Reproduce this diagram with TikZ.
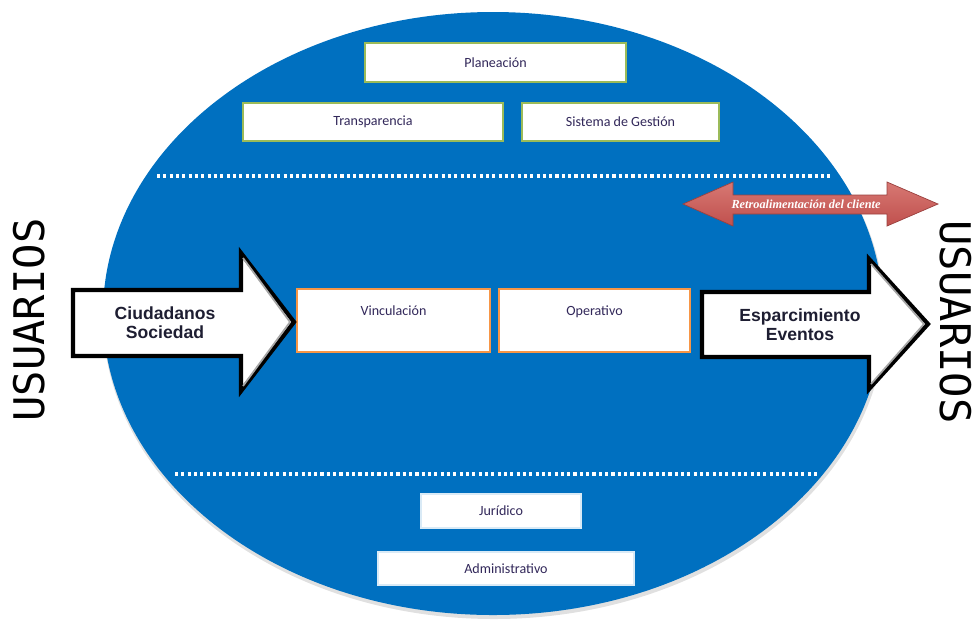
\documentclass[tikz,border=0pt]{standalone}
\usepackage{fontspec}
\setmainfont{Carlito}
\newfontfamily\arrowfont{Liberation Sans}
\newfontfamily\serifit{Liberation Serif}
\newfontfamily\monofont{DejaVu Sans Mono}
\definecolor{ellblue}{RGB}{0,112,192}
\definecolor{boxgreen}{RGB}{155,187,89}
\definecolor{boxorange}{RGB}{247,150,70}
\definecolor{fbred}{RGB}{192,80,77}
\definecolor{fbredlight}{RGB}{215,120,115}
\definecolor{txtdark}{RGB}{50,40,90}
\definecolor{arrtxt}{RGB}{30,30,50}
\begin{document}
\begin{tikzpicture}[x=0.02cm,y=-0.02cm,
  boxbase/.style={rectangle, fill=white, inner sep=0pt, font=\fontsize{8}{9}\selectfont, text=txtdark},
  gbox/.style={boxbase, draw=boxgreen, line width=1.6pt},
  obox/.style={boxbase, draw=boxorange, line width=1.6pt},
  wbox/.style={boxbase, draw=white!85!ellblue, line width=1.2pt},
  divider/.style={white, line width=1.8pt, dash pattern=on 1.8pt off 1.8pt},
  bigarrow/.style={fill=white, draw=black, line width=2.4pt, line join=miter},
  arrowtext/.style={font=\arrowfont\bfseries\fontsize{10}{11}\selectfont, align=center, text=arrtxt},
  usuarios/.style={font=\monofont\fontsize{24}{24}\selectfont, text=black}
]
\useasboundingbox (0,0) rectangle (973,627);
% shadow and main ellipse
\fill[black!12] (494,317) ellipse [x radius=391, y radius=302];
\fill[ellblue] (493,313.5) ellipse [x radius=390, y radius=301.5];
\coordinate (ell) at (493,313.5);

% dividers
\coordinate (d1a) at (157,176);
\coordinate (d1b) at (830,176);
\coordinate (d2a) at (175,474);
\coordinate (d2b) at (820,474);
\draw[divider] (d1a) -- (d1b);
\draw[divider] (d2a) -- (d2b);

% top boxes
\node[gbox, minimum width=5.22cm, minimum height=0.78cm] (plan) at (495.5,62.5) {Planeación};
\node[gbox, minimum width=5.2cm, minimum height=0.76cm] (trans) at (373,122) {Transparencia};
\node[gbox, minimum width=3.94cm, minimum height=0.76cm] (sist) at (620.5,122) {Sistema de Gestión};

% middle boxes
\node[obox, minimum width=3.86cm, text height=0.53cm, text depth=0.73cm, align=center] (vinc) at (393.5,320.5) {Vinculación};
\node[obox, minimum width=3.82cm, text height=0.53cm, text depth=0.73cm, align=center] (oper) at (594.5,320.5) {Operativo};

% bottom boxes
\node[wbox, minimum width=3.2cm, minimum height=0.68cm] (jur) at (501,511) {Jurídico};
\node[wbox, minimum width=5.12cm, minimum height=0.66cm] (adm) at (506,568.5) {Administrativo};

% left block arrow
\draw[bigarrow] (73,290) -- (241,290) -- (241,253) -- (294,322) -- (241,391) -- (241,356) -- (73,356) -- cycle;
\draw[black!35, line width=1pt] (243,258) -- (290,322) -- (243,386);
\node[arrowtext] (ciud) at (165,323) {Ciudadanos\\Sociedad};

% right block arrow
\draw[bigarrow] (702,292) -- (869,292) -- (869,259) -- (928,324) -- (869,389) -- (869,357) -- (702,357) -- cycle;
\draw[black!35, line width=1pt] (871,264) -- (924,324) -- (871,384);
\node[arrowtext] (espa) at (800,325) {Esparcimiento\\Eventos};

% feedback double arrow
\shade[top color=fbredlight, bottom color=fbred, draw=fbred!80!black, line width=0.4pt]
  (683,204) -- (733,182) -- (733,195) -- (887,195) -- (887,182) -- (938,204)
  -- (887,226) -- (887,214) -- (733,214) -- (733,226) -- cycle;
\node[font=\serifit\bfseries\itshape\fontsize{7}{8}\selectfont, text=white] (retro) at (806,204) {Retroalimentación del cliente};

% USUARIOS labels
\node[usuarios, rotate=90] (usrL) at (29,320) {USUARIOS};
\node[usuarios, rotate=-90] (usrR) at (956,322) {USUARIOS};
\end{tikzpicture}
\end{document}
